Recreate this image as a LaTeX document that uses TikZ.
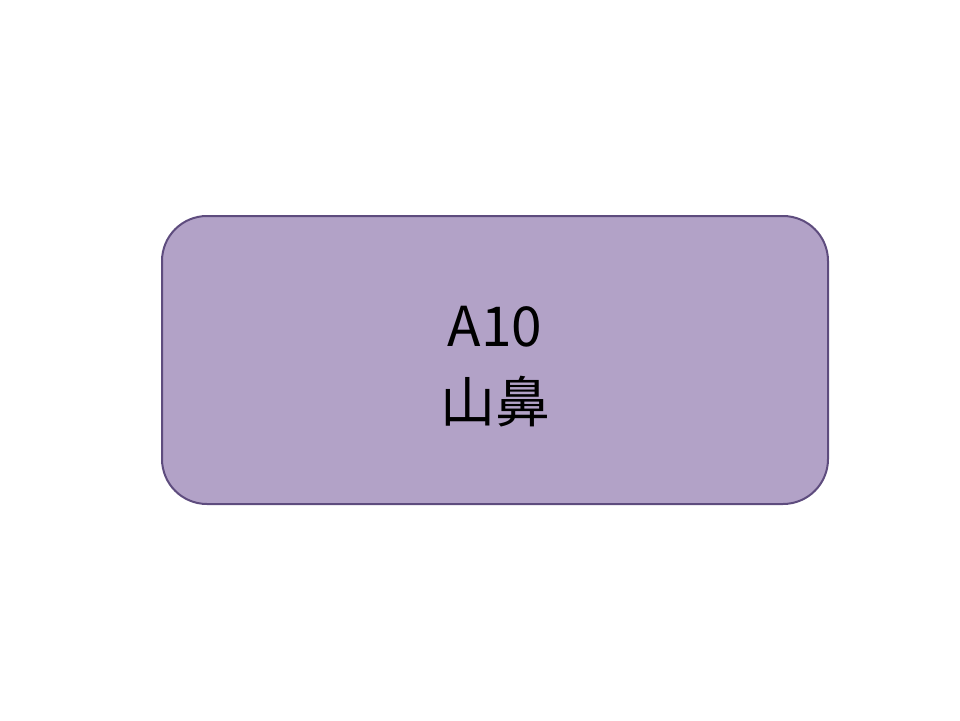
\documentclass[tikz,border=0pt]{standalone}
\usepackage{fontspec}
\newfontfamily\cjk{Noto Sans CJK JP}
\definecolor{boxfill}{RGB}{178,162,199}
\definecolor{boxline}{RGB}{94,76,126}
\tikzset{
  roundbox/.style={draw=boxline, line width=2pt, fill=boxfill, rounded corners=45pt,
    minimum width=666pt, minimum height=288pt, inner sep=0pt},
  boxtext/.style={align=center, inner sep=0pt, font=\cjk\fontsize{55}{76}\selectfont}
}
\begin{document}
\begin{tikzpicture}[x=1pt,y=1pt]
\useasboundingbox (0,0) rectangle (960,-720);
\node[roundbox] (box) at (495,-360) {};
\node[boxtext] (label) at ([yshift=-7pt]box.center) {A10\\山鼻};
\end{tikzpicture}
\end{document}
